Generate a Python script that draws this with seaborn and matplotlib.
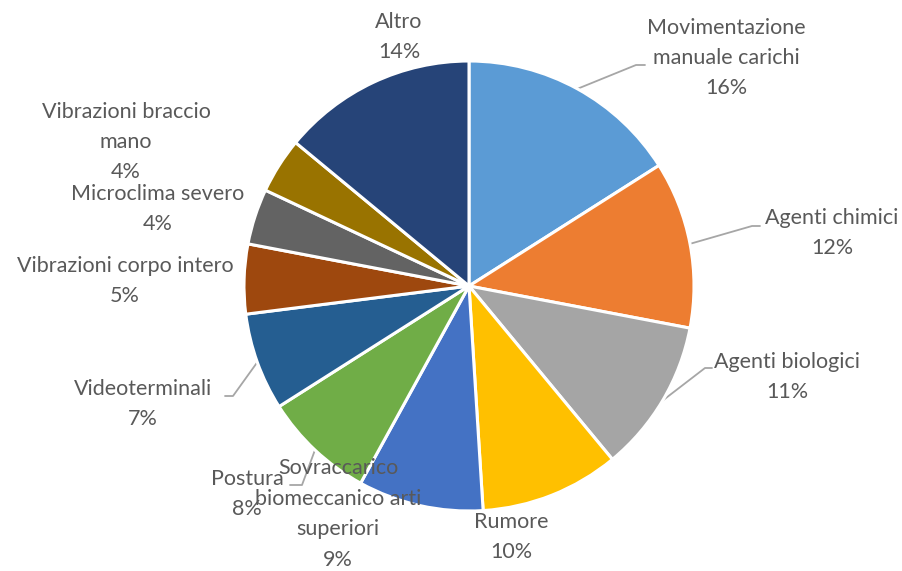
import matplotlib
matplotlib.use("Agg")
import numpy as np
import matplotlib.pyplot as plt
import seaborn as sns

# dati
categories = [
    "Movimentazione\nmanuale carichi", "Agenti chimici", "Agenti biologici",
    "Rumore", "Sovraccarico\nbiomeccanico arti\nsuperiori", "Postura",
    "Videoterminali", "Vibrazioni corpo intero", "Microclima severo",
    "Vibrazioni braccio\nmano", "Altro",
]
shares = [16, 12, 11, 10, 9, 8, 7, 5, 4, 4, 14]
colors = ["#5B9BD5", "#ED7D31", "#A5A5A5", "#FFC000", "#4472C4", "#70AD47",
          "#255E91", "#9E480E", "#636363", "#997300", "#264478"]

# layout (pixel dell'immagine, y verso il basso)
W, H = 902, 571
center_px = (469, 286)
radius_px = 225
label_pos = [(726, 58), (832, 233), (787, 377), (511, 537), (338, 514),
             (247, 494), (143, 404), (125, 281), (158, 209), (126, 142),
             (399, 37)]
leader_elbows = {0: [(636, 65), (645, 65)],
                 1: [(752, 226), (760, 226)],
                 2: [(705, 368), (712, 368)],
                 5: [(302, 485), (290, 485)],
                 6: [(233, 396), (225, 396)]}


def px(x, y):
    return x, H - y


sns.set_theme(style="white")
plt.rcParams["font.family"] = ["Lato", "DejaVu Sans"]

fig = plt.figure(figsize=(W / 100, H / 100), dpi=100)
ax = fig.add_axes([0, 0, 1, 1])

wedges, _ = ax.pie(shares, colors=colors, startangle=90, counterclock=False,
                   center=px(*center_px), radius=radius_px, frame=True,
                   wedgeprops=dict(edgecolor="white", linewidth=2.2))
ax.set_xlim(0, W)
ax.set_ylim(0, H)
ax.set_aspect("equal")
ax.axis("off")

cx, cy = px(*center_px)
for i, w in enumerate(wedges):
    lx, ly = px(*label_pos[i])
    ax.text(lx, ly, f"{categories[i]}\n{shares[i]}%", ha="center", va="center",
            fontsize=15.5, color="#595959", linespacing=1.65)
    if i in leader_elbows:
        mid = np.deg2rad((w.theta1 + w.theta2) / 2)
        pts = [(cx + radius_px * np.cos(mid), cy + radius_px * np.sin(mid))]
        pts += [px(*p) for p in leader_elbows[i]]
        xs, ys = zip(*pts)
        ax.plot(xs, ys, color="#A6A6A6", lw=1.3, zorder=0.5)

fig.savefig("out.png", dpi=100)
